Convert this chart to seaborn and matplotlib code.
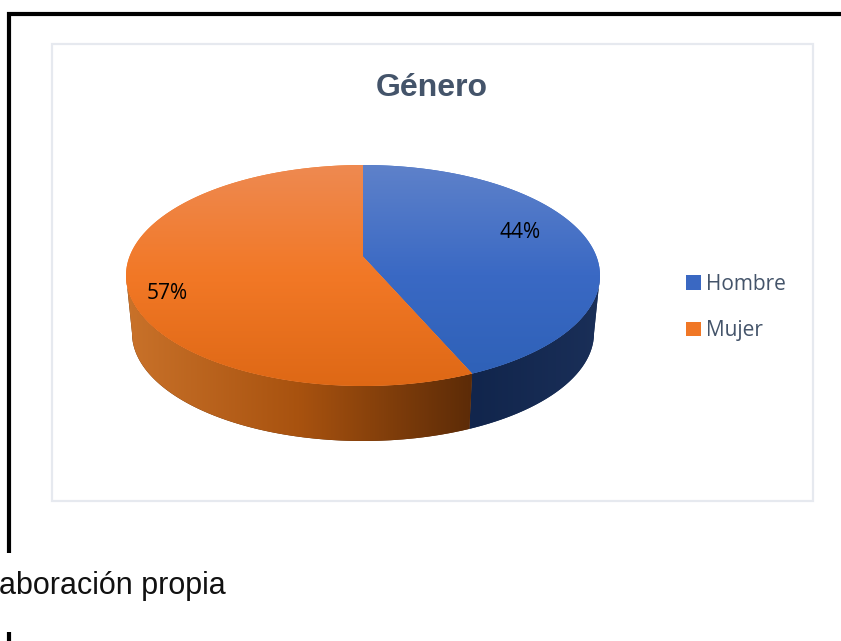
import numpy as np
import matplotlib
matplotlib.use("Agg")
import matplotlib.pyplot as plt
import seaborn as sns
from matplotlib.colors import LinearSegmentedColormap
from matplotlib.lines import Line2D
from matplotlib.patches import Patch, PathPatch, Rectangle
from matplotlib.path import Path

# ---- data ----
categories = ["Hombre", "Mujer"]
values = [44, 57]
title_text = "Género"
source_text = "aboración propia"

# ---- colours ----
legend_colors = ["#3a68c2", "#f07726"]
top_colors = [["#5f82ca", "#3a69c4", "#2d60b6"], ["#ee8a52", "#f27826", "#de6815"]]
side_colors = [["#11254c", "#1a2f58"], ["#c9722a", "#a8520f", "#5c2b07"]]
text_color = "#44546a"

W, H = 841, 641
sns.set_theme(style="white")
plt.rcParams["font.family"] = ["Open Sans", "DejaVu Sans"]

fig = plt.figure(figsize=(W / 100, H / 100), dpi=100, facecolor="white")
ax = fig.add_axes([0, 0, 1, 1])

wedges, _ = ax.pie(values, colors=legend_colors, startangle=90, counterclock=False)

# perspective of the tilted disc
CX, CY, RX, RY = 363, 275.5, 237, 110.5
k = 0.172
a = np.sqrt(1 - k ** 2)
SIDE_SX, SIDE_SY, SIDE_DY = 231 / 237, 108 / 110.5, (333 - 275.5) / 110.5
limit = np.degrees(np.arcsin(k))


def project(deg, sx=1.0, sy=1.0, dy=0.0):
    t = np.radians(deg)
    u, v = np.cos(t), np.sin(t)
    d = 1 + k * v
    return sx * a * u / d, sy * (v + k) / d - dy


def gradient(colors, extent, vertical, clip):
    cmap = LinearSegmentedColormap.from_list("g", colors)
    ramp = np.linspace(0, 1, 256)
    img = ramp[:, None] if vertical else ramp[None, :]
    im = ax.imshow(img, cmap=cmap, extent=extent, origin="upper", aspect="auto",
                   interpolation="bilinear", zorder=clip.get_zorder())
    im.set_clip_path(clip)


# side walls first
for wedge, cols in zip(wedges, side_colors):
    wedge.set_visible(False)
    lo = max(wedge.theta1, -180 + limit)
    hi = min(wedge.theta2, -limit)
    th = np.linspace(lo, hi, 120)
    xt, yt = project(th)
    xb, yb = project(th[::-1], SIDE_SX, SIDE_SY, SIDE_DY)
    verts = np.r_[np.c_[xt, yt], np.c_[xb, yb], [[xt[0], yt[0]]]]
    patch = PathPatch(Path(verts), facecolor=cols[-1], edgecolor="none", zorder=2)
    ax.add_patch(patch)
    gradient(cols, (min(xt.min(), xb.min()), max(xt.max(), xb.max()), -1.6, 1.1), False, patch)

# top faces
for wedge, cols in zip(wedges, top_colors):
    th = np.linspace(wedge.theta1, wedge.theta2, 240)
    x, y = project(th)
    verts = np.r_[[[0, k]], np.c_[x, y], [[0, k]]]
    patch = PathPatch(Path(verts), facecolor=cols[1], edgecolor="none", zorder=3)
    ax.add_patch(patch)
    gradient(cols, (-1.05, 1.05, -1.02, 1.02), True, patch)

ax.set_position([0, 0, 1, 1])
ax.set_aspect("auto")
ax.set_xlim(-CX / RX, (W - CX) / RX)
ax.set_ylim((CY - H) / RY, CY / RY)

# chart panel and outer black rule
fig.add_artist(Rectangle((51.5 / W, 1 - 501 / H), 761 / W, 457 / H, transform=fig.transFigure,
                         facecolor="none", edgecolor="#e6e9ef", linewidth=1.6, zorder=1))
for xs, ys in [((9, 9), (12, 553)), ((7, 841), (14, 14)), ((9, 9), (632, 641))]:
    fig.add_artist(Line2D([x / W for x in xs], [1 - y / H for y in ys], color="black",
                          linewidth=3, solid_capstyle="butt", zorder=5))

# texts
fig.text(432 / W, 1 - 88 / H, title_text, family=["Liberation Sans"], fontsize=23,
         fontweight="bold", color=text_color, ha="center", va="center")
fig.text(226 / W, 1 - 594 / H, source_text, family=["Liberation Sans"], fontsize=22,
         color="#111111", ha="right", va="baseline")
for val, (px, py) in zip(values, [(520.5, 233), (167, 293)]):
    fig.text(px / W, 1 - py / H, f"{val}%", fontsize=15, color="black", ha="center", va="center",
             zorder=6)

handles = [Patch(facecolor=c, edgecolor="none", label=n) for c, n in zip(legend_colors, categories)]
fig.legend(handles=handles, loc="center left", bbox_to_anchor=(686 / W, 1 - 307.5 / H), frameon=False,
           fontsize=15, labelcolor=text_color, handlelength=0.7, handleheight=0.7,
           handletextpad=0.26, labelspacing=1.22, borderpad=0, borderaxespad=0)

fig.savefig("out.png", dpi=100)
